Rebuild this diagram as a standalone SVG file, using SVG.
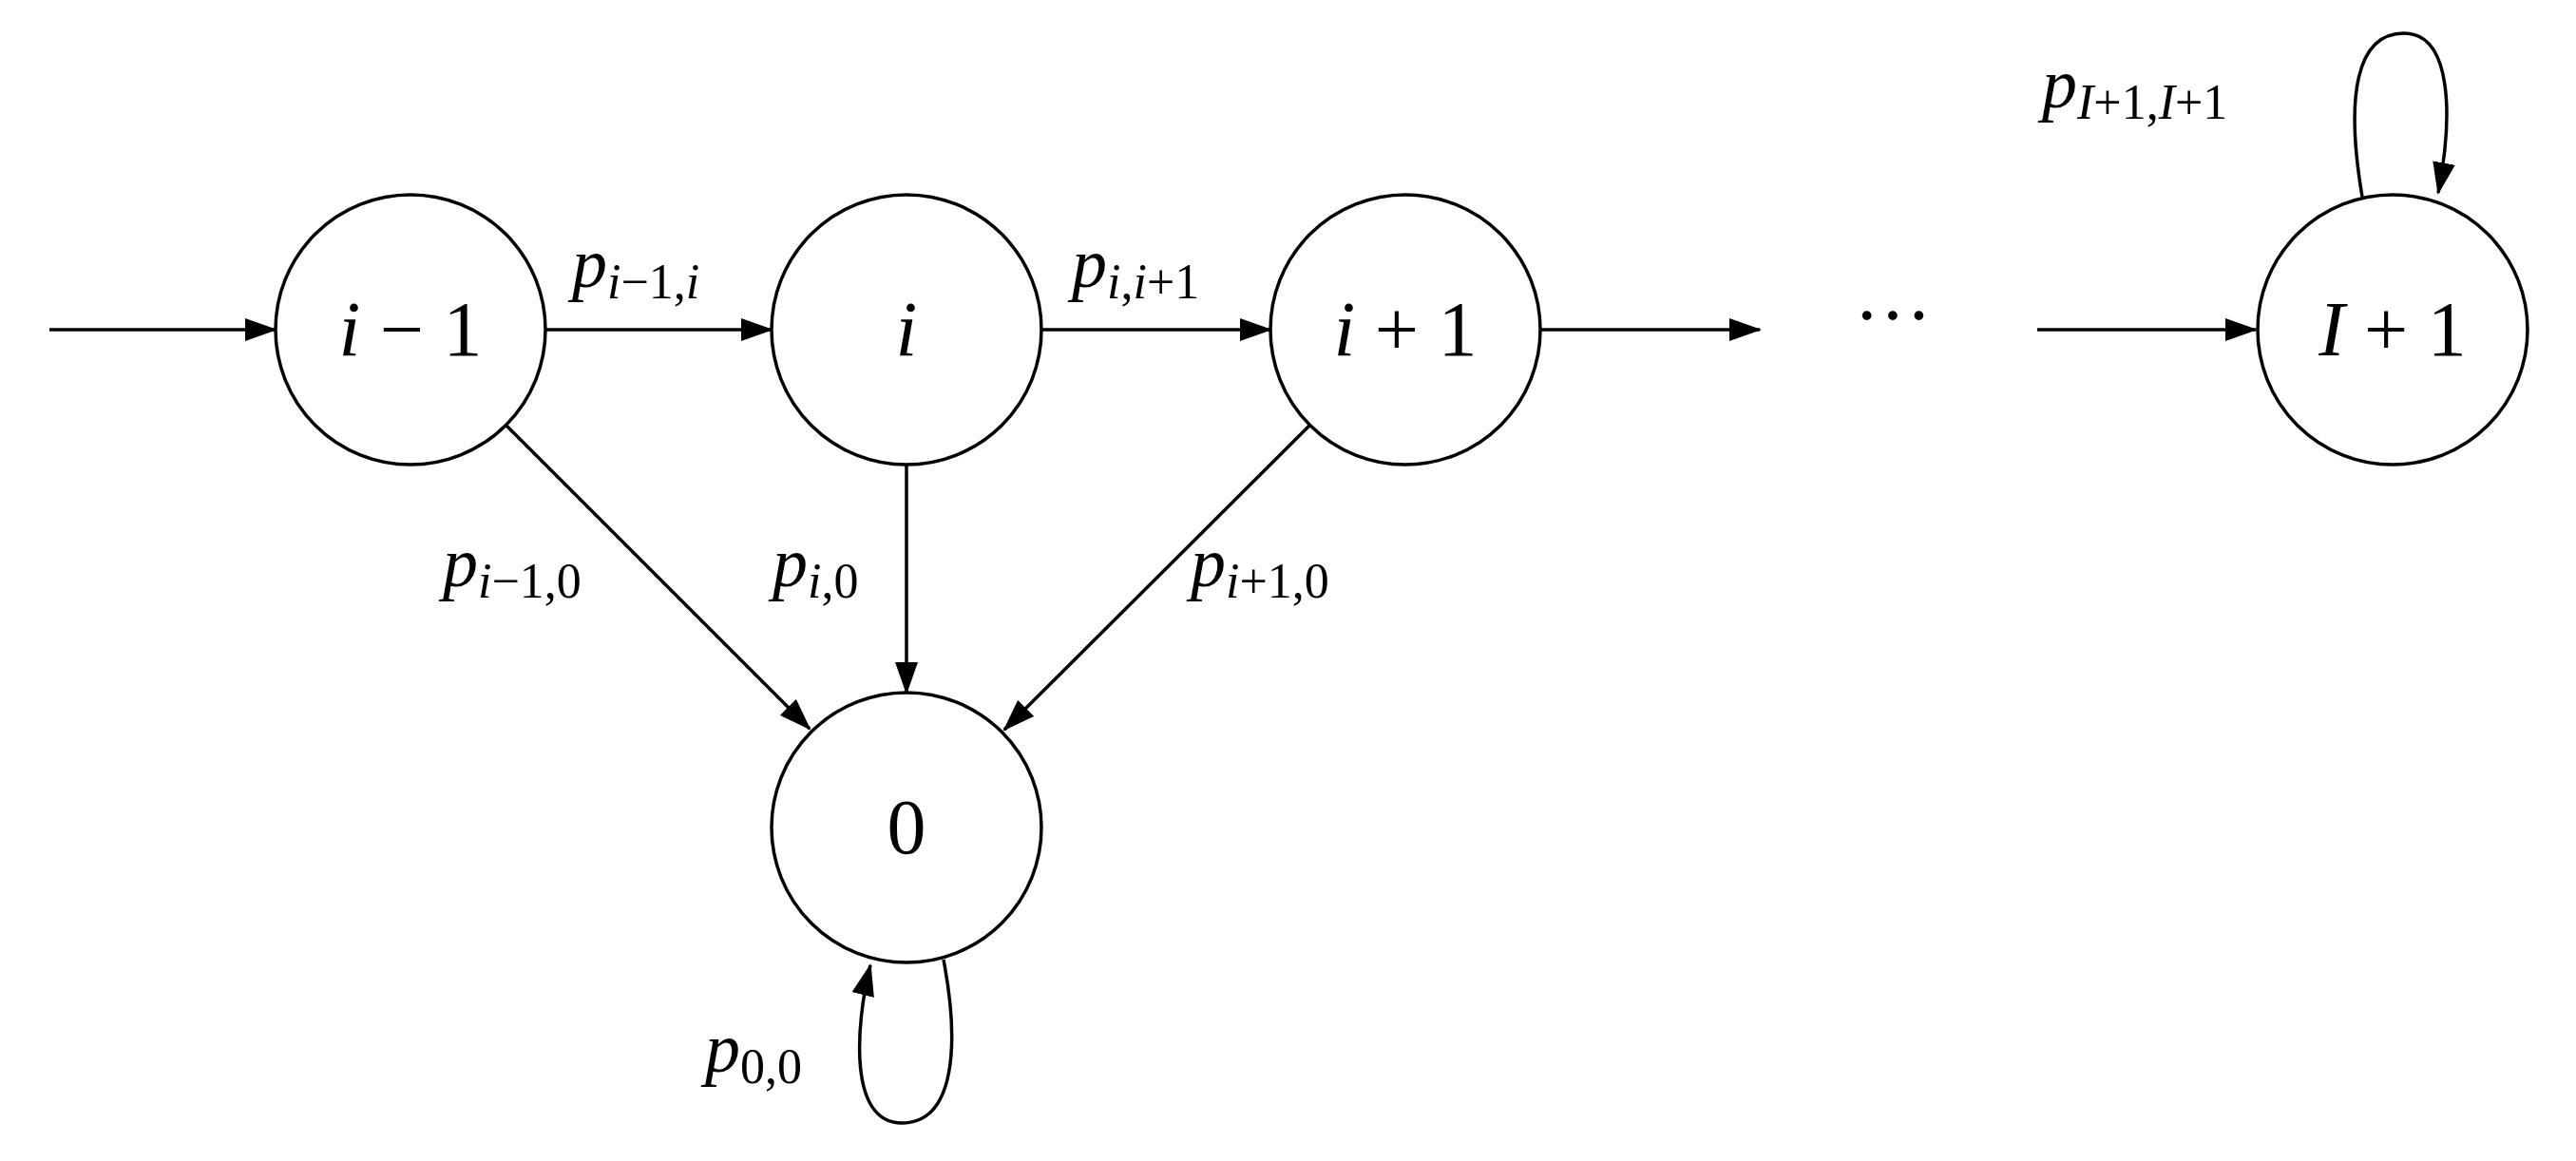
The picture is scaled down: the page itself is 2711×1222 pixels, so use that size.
<svg xmlns="http://www.w3.org/2000/svg" width="2711" height="1222" viewBox="0 0 2711 1222">
<style>
.n{fill:#fff;stroke:#000;stroke-width:3.5}
.e{fill:none;stroke:#000;stroke-width:3.5;marker-end:url(#a)}
text{font-family:"Liberation Serif","DejaVu Serif",serif;fill:#000}
.m{font-size:82px}
.l{font-size:74px}
.it{font-style:italic}
.s{font-size:52px}
</style>
<defs>
<marker id="a" markerUnits="userSpaceOnUse" markerWidth="34" markerHeight="24" refX="32" refY="12" orient="auto">
<path d="M0,0 L34,12 L0,24 Z" fill="#000"/>
</marker>
</defs>
<g id="connectors">
<path class="e" d="M52,347 H290"/>
<path class="e" d="M574,347 H812"/>
<path class="e" d="M1096,347 H1337"/>
<path class="e" d="M1621,347 H1852"/>
<path class="e" d="M2144,347 H2374"/>
<path class="e" d="M954,489 V729"/>
<path class="e" d="M532,447 L852,767"/>
<path class="e" d="M1379,447 L1057,768"/>
<path class="e" d="M2486,207 C2468,100 2480,35 2530,35 C2580,35 2582,120 2566,203"/>
<path class="e" d="M993,1010 C1010,1100 1005,1182 949,1182 C893,1182 900,1080 916,1016"/>
</g>
<g id="labels">
<text class="l" x="602" y="302"><tspan class="it">p</tspan><tspan class="s" dy="12"><tspan class="it">i</tspan>−1,<tspan class="it">i</tspan></tspan></text>
<text class="l" x="1128" y="302"><tspan class="it">p</tspan><tspan class="s" dy="12"><tspan class="it">i</tspan>,<tspan class="it">i</tspan>+1</tspan></text>
<text class="l" x="466" y="617"><tspan class="it">p</tspan><tspan class="s" dy="12"><tspan class="it">i</tspan>−1,0</tspan></text>
<text class="l" x="813" y="617"><tspan class="it">p</tspan><tspan class="s" dy="12"><tspan class="it">i</tspan>,0</tspan></text>
<text class="l" x="1253" y="617"><tspan class="it">p</tspan><tspan class="s" dy="12"><tspan class="it">i</tspan>+1,0</tspan></text>
<text class="l" x="2149" y="113"><tspan class="it">p</tspan><tspan class="s" dy="12"><tspan class="it">I</tspan>+1,<tspan class="it">I</tspan>+1</tspan></text>
<text class="l" x="742" y="1128"><tspan class="it">p</tspan><tspan class="s" dy="12">0,0</tspan></text>
<text class="m" x="1992" y="360" text-anchor="middle">···</text>
</g>
<g id="n_im1"><circle class="n" cx="432" cy="347" r="142"/><text class="m" x="432" y="374" text-anchor="middle"><tspan class="it">i</tspan> − 1</text></g>
<g id="n_i"><circle class="n" cx="954" cy="347" r="142"/><text class="m it" x="954" y="374" text-anchor="middle">i</text></g>
<g id="n_ip1"><circle class="n" cx="1479" cy="347" r="142"/><text class="m" x="1479" y="374" text-anchor="middle"><tspan class="it">i</tspan> + 1</text></g>
<g id="n_I1"><circle class="n" cx="2518" cy="347" r="142"/><text class="m" x="2518" y="374" text-anchor="middle"><tspan class="it">I</tspan> + 1</text></g>
<g id="n_0"><circle class="n" cx="954" cy="871" r="142"/><text class="m" x="954" y="898" text-anchor="middle">0</text></g>
</svg>
